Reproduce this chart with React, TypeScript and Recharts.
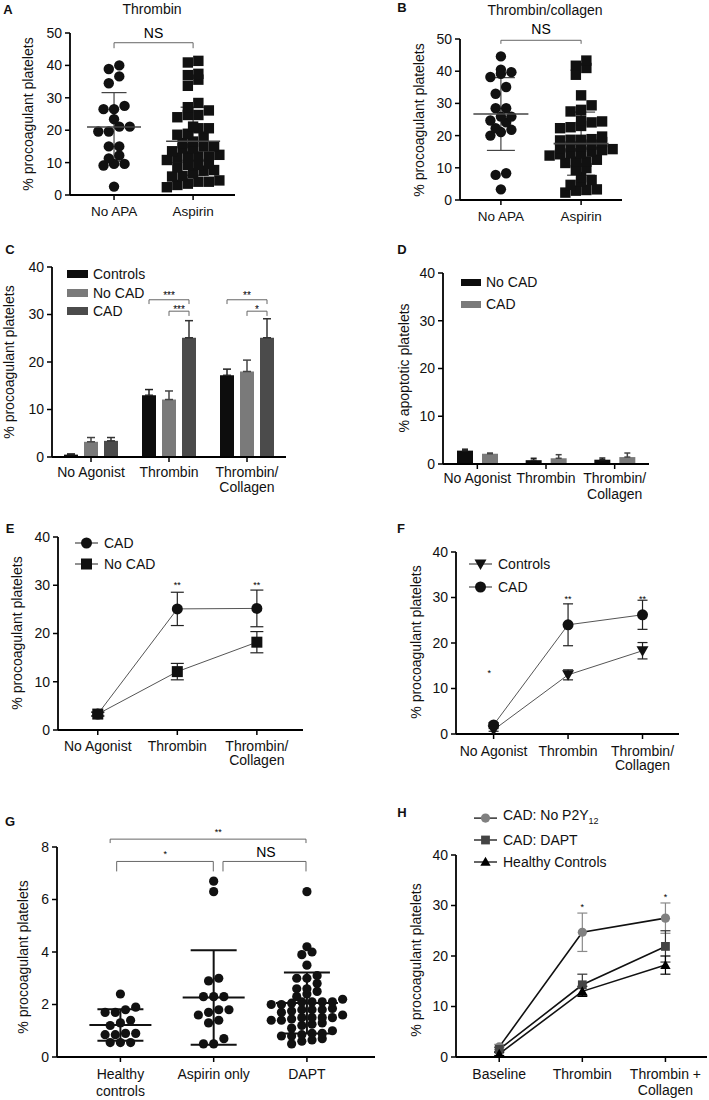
import React from 'react';
import {
  ComposedChart, Bar, Line, Scatter, XAxis, YAxis, ErrorBar,
  ReferenceLine, ReferenceDot,
} from 'recharts';

// ---------- values ----------
const abGroups = ['No APA', 'Aspirin'];

const thrNoApa = [40.0, 38.9, 36.6, 34.5, 27.5, 26.5, 26.5, 23.4, 21.1, 21.1, 19.6, 19.6, 15.0, 15.0, 12.2, 11.3, 9.6, 9.6, 9.1, 2.6];
const thrAspirin = [41.4, 40.9, 37.4, 37.0, 35.6, 33.7, 28.4, 27.1, 26.1, 24.7, 24.7, 24.0, 21.1, 20.6, 20.6, 18.9, 18.6, 18.0, 16.5, 16.0, 15.0, 15.0, 14.4, 14.4, 13.5, 12.4, 11.9, 11.9, 11.9, 11.5, 10.8, 9.6, 9.3, 9.3, 8.5, 7.7, 7.5, 6.7, 5.9, 5.7, 4.5, 4.1, 4.1, 3.5, 3.1, 2.4];
const thrMean = [21.0, 16.6];
const thrSd = [10.6, 10.5];

const tcNoApa = [44.6, 40.5, 39.7, 39.2, 38.2, 35.1, 33.0, 28.5, 28.5, 25.9, 25.9, 24.7, 24.1, 22.3, 21.8, 21.1, 20.0, 8.3, 7.8, 3.3];
const tcAspirin = [43.3, 41.7, 41.0, 38.9, 32.5, 29.4, 28.0, 27.5, 24.7, 24.4, 24.1, 23.0, 22.6, 22.3, 19.7, 18.9, 18.7, 18.7, 18.5, 18.0, 17.2, 16.6, 16.6, 16.2, 15.8, 15.5, 15.0, 14.5, 14.5, 14.2, 13.8, 12.5, 11.9, 11.9, 11.5, 9.9, 9.3, 7.1, 6.2, 5.7, 4.7, 3.3, 3.1, 2.9, 2.3];
const tcMean = [26.7, 17.5];
const tcSd = [11.3, 9.8];

const agonists = ['No Agonist', 'Thrombin', 'Thrombin/\nCollagen'];

const cControls = [0.5, 13.0, 17.2];
const cControlsErr = [0.15, 1.2, 1.3];
const cNoCad = [3.2, 12.1, 18.0];
const cNoCadErr = [0.9, 1.8, 2.4];
const cCad = [3.4, 25.1, 25.1];
const cCadErr = [0.7, 3.6, 4.0];

const dNoCad = [2.8, 0.8, 0.9];
const dNoCadErr = [0.3, 0.4, 0.35];
const dCad = [2.15, 1.2, 1.45];
const dCadErr = [0.15, 0.75, 0.85];

const eCad = [3.3, 25.1, 25.2];
const eCadErr = [0.4, 3.45, 3.8];
const eNoCad = [3.3, 12.1, 18.2];
const eNoCadErr = [0.4, 1.7, 2.2];

const fControls = [0.9, 13.0, 18.3];
const fControlsErr = [0.3, 1.1, 1.8];
const fCad = [2.0, 24.0, 26.2];
const fCadErr = [0.5, 4.6, 3.2];

const gGroups = ['Healthy\ncontrols', 'Aspirin only', 'DAPT'];
const gHealthy = [2.4, 1.9, 1.8, 1.7, 1.7, 1.4, 1.3, 1.2, 0.9, 0.9, 0.85, 0.85, 0.55, 0.55, 0.55];
const gAspirin = [6.7, 6.3, 3.0, 2.9, 2.3, 2.3, 2.3, 1.8, 1.8, 1.7, 1.6, 1.4, 1.3, 0.7, 0.5, 0.5];
const gDapt = [6.3, 4.2, 4.0, 3.9, 3.5, 3.1, 3.0, 3.0, 2.8, 2.6, 2.6, 2.5, 2.4, 2.3, 2.2, 2.1, 2.1, 2.1, 2.1, 2.05, 2.0, 2.0, 1.85, 1.8, 1.8, 1.8, 1.75, 1.7, 1.6, 1.5, 1.5, 1.5, 1.5, 1.45, 1.4, 1.4, 1.3, 1.25, 1.2, 1.1, 1.0, 0.9, 0.9, 0.85, 0.8, 0.8, 0.7, 0.65, 0.6, 0.5];
const gMean = [1.22, 2.27, 2.06];
const gSd = [0.6, 1.8, 1.16];

const hGroups = ['Baseline', 'Thrombin', 'Thrombin +\nCollagen'];
const hNoP2y = [2.0, 24.7, 27.5];
const hNoP2yErr = [0.5, 3.8, 3.0];
const hDapt = [1.5, 14.3, 21.9];
const hDaptErr = [0.4, 2.1, 3.1];
const hHealthy = [0.6, 13.0, 18.2];
const hHealthyErr = [0.3, 1.0, 1.8];

const ticks50 = [0, 10, 20, 30, 40, 50];
const ticks40 = [0, 10, 20, 30, 40];
const ticks8 = [0, 2, 4, 6, 8];

// ---------- layout ----------
const FONT = '"Liberation Sans", Arial, Helvetica, sans-serif';
const INK = '#111';
const YW = 50;
const TOP = 45;
const RIGHT = 8;
const XH = 50;
const AXIS = { stroke: '#000', strokeWidth: 1.8 };
const TICK = { stroke: '#000', strokeWidth: 1.5 };

type Box = { x0: number; x1: number; y0: number; y1: number };
const boxA: Box = { x0: 70, x1: 235, y0: 33, y1: 195 };
const boxB: Box = { x0: 460, x1: 622, y0: 39, y1: 200 };
const boxC: Box = { x0: 52, x1: 286, y0: 267, y1: 457 };
const boxD: Box = { x0: 443, x1: 649, y0: 273, y1: 464 };
const boxE: Box = { x0: 58, x1: 303, y0: 537, y1: 730 };
const boxF: Box = { x0: 456, x1: 679, y0: 552, y1: 734 };
const boxG: Box = { x0: 57, x1: 375, y0: 847, y1: 1057 };
const boxH: Box = { x0: 456, x1: 707, y0: 855, y1: 1057 };

function chartFrame(b: Box) {
  return {
    style: { position: 'absolute' as const, left: b.x0 - YW, top: b.y0 - TOP },
    width: b.x1 - b.x0 + YW + RIGHT,
    height: b.y1 - b.y0 + TOP + XH,
    margin: { top: TOP, right: RIGHT, bottom: 0, left: 0 },
  };
}

const yAxisProps = (max: number, ticks: number[]) => ({
  type: 'number' as const,
  domain: [0, max],
  ticks,
  interval: 0,
  width: YW,
  tickSize: 5,
  tickMargin: 3,
  axisLine: AXIS,
  tickLine: TICK,
  tick: { fill: INK, fontSize: 14 },
  allowDataOverflow: true,
});

// multi-line category tick; base = baseline of first line below the axis
const catTick = (labels: string[], base: number, lh: number, fs = 14) => (p: any) => {
  const v = p.payload.value;
  const txt = typeof v === 'number' ? labels[Math.floor(v + 1e-6)] : v;
  if (txt == null) return <g />;
  const lines = String(txt).split('\n');
  return (
    <text x={p.x} y={p.y - 5 + base} textAnchor="middle" fontSize={fs} fill={INK}>
      {lines.map((l, i) => (
        <tspan key={i} x={p.x} dy={i ? lh : 0}>{l}</tspan>
      ))}
    </text>
  );
};

function marker(kind: string, cx: number, cy: number, s: number, fill: string, key?: any) {
  if (kind === 'square') return <rect key={key} x={cx - s} y={cy - s} width={2 * s} height={2 * s} fill={fill} />;
  if (kind === 'triDown')
    return <polygon key={key} points={`${cx - s * 1.2},${cy - s * 0.9} ${cx + s * 1.2},${cy - s * 0.9} ${cx},${cy + s * 1.2}`} fill={fill} />;
  if (kind === 'triUp')
    return <polygon key={key} points={`${cx - s * 1.2},${cy + s * 0.9} ${cx + s * 1.2},${cy + s * 0.9} ${cx},${cy - s * 1.2}`} fill={fill} />;
  return <circle key={key} cx={cx} cy={cy} r={s} fill={fill} />;
}

// Prism-like scatter layout: values binned into rows, each row spread symmetrically
function swarm(values: number[], group: number, pxX: number, pxY: number, d: number, binH: number) {
  const sorted = [...values].sort((a, b) => a - b);
  const bins: number[][] = [];
  let start = -Infinity;
  sorted.forEach((v) => {
    if ((v - start) * pxY >= binH) {
      bins.push([v]);
      start = v;
    } else bins[bins.length - 1].push(v);
  });
  const out: { x: number; y: number }[] = [];
  bins.forEach((b) =>
    b.forEach((v, k) => out.push({ x: group + ((k - (b.length - 1) / 2) * d) / pxX, y: v })),
  );
  return out;
}

function bracket(id: string, x1: number, x2: number, y: number, drop: number) {
  const p = { ifOverflow: 'visible' as const, stroke: '#666', strokeWidth: 1 };
  return [
    <ReferenceLine key={id + 'h'} segment={[{ x: x1, y }, { x: x2, y }]} {...p} />,
    <ReferenceLine key={id + 'l'} segment={[{ x: x1, y }, { x: x1, y: y - drop }]} {...p} />,
    <ReferenceLine key={id + 'r'} segment={[{ x: x2, y }, { x: x2, y: y - drop }]} {...p} />,
  ];
}

function note(id: string, x: number, y: number, text: string, size: number) {
  const dy = text.includes('*') ? 0.57 * size : 0.36 * size;
  return (
    <ReferenceDot
      key={id}
      x={x}
      y={y}
      r={0}
      ifOverflow="visible"
      shape={(p: any) => (
        <text x={p.cx} y={p.cy + dy} textAnchor="middle" fontSize={size} stroke="none" style={{ fill: '#000' }}>{text}</text>
      )}
    />
  );
}

function DotPlot(props: any) {
  const { box, xDomain, yMax, yTicks, labels, groups, mean, sd, size, spacing, binH, meanHalf, capHalf, meanW, sdW, sdColor, tickBase, lh, fs, extras } = props;
  const f = chartFrame(box);
  const pxX = (box.x1 - box.x0) / (xDomain[1] - xDomain[0]);
  const pxY = (box.y1 - box.y0) / yMax;
  const summary = mean.map((m: number, i: number) => ({ x: i, y: m, sd: sd[i] }));
  return (
    <div style={f.style}>
      <ComposedChart width={f.width} height={f.height} margin={f.margin}>
        <XAxis type="number" dataKey="x" domain={xDomain} ticks={labels.map((_: any, i: number) => i)} interval={0}
          height={XH} tickSize={5} tickMargin={0} axisLine={AXIS} tickLine={TICK}
          tick={catTick(labels, tickBase, lh, fs)} allowDataOverflow />
        <YAxis {...yAxisProps(yMax, yTicks)} dataKey="y" />
        {extras}
        {groups.map((g: any, i: number) => (
          <Scatter key={i} data={swarm(g.values, i, pxX, pxY, spacing, binH)} isAnimationActive={false}
            shape={(p: any) => marker(g.kind, p.cx, p.cy, size, INK)} />
        ))}
        <Scatter data={summary} isAnimationActive={false}
          shape={(p: any) => (
            <line x1={p.cx - meanHalf} x2={p.cx + meanHalf} y1={p.cy} y2={p.cy} stroke={sdColor} strokeWidth={meanW} />
          )}>
          <ErrorBar dataKey="sd" direction="y" width={capHalf} stroke={sdColor} strokeWidth={sdW} />
        </Scatter>
      </ComposedChart>
    </div>
  );
}

function BarPanel(props: any) {
  const { box, labels, series, barSize, barGap, capHalf, tickBase, lh, extras } = props;
  const f = chartFrame(box);
  const data = labels.map((_: string, i: number) => {
    const row: any = { x: i + 0.5 };
    series.forEach((s: any) => {
      row[s.key] = s.values[i];
      row[s.key + 'E'] = [0, s.errs[i]];
    });
    return row;
  });
  return (
    <div style={f.style}>
      <ComposedChart width={f.width} height={f.height} margin={f.margin} data={data} barSize={barSize} barGap={barGap}>
        <XAxis type="number" dataKey="x" domain={[0, labels.length]} ticks={labels.map((_: any, i: number) => i + 0.5)}
          interval={0} height={XH} tickSize={5} tickMargin={0} axisLine={AXIS} tickLine={TICK}
          tick={catTick(labels, tickBase, lh)} allowDataOverflow />
        <YAxis {...yAxisProps(40, ticks40)} />
        {series.map((s: any) => (
          <Bar key={s.key} dataKey={s.key} fill={s.color} isAnimationActive={false}>
            <ErrorBar dataKey={s.key + 'E'} width={capHalf} stroke={s.err} strokeWidth={1.5} direction="y" />
          </Bar>
        ))}
        {extras}
      </ComposedChart>
    </div>
  );
}

function LinePanel(props: any) {
  const { box, domain, labels, series, capHalf, tickBase, lh, extras } = props;
  const f = chartFrame(box);
  const data = labels.map((_: string, i: number) => {
    const row: any = { x: i };
    series.forEach((s: any) => {
      row[s.key] = s.values[i];
      row[s.key + 'E'] = s.errs[i];
    });
    return row;
  });
  return (
    <div style={f.style}>
      <ComposedChart width={f.width} height={f.height} margin={f.margin} data={data}>
        <XAxis type="number" dataKey="x" domain={domain} ticks={labels.map((_: any, i: number) => i)} interval={0}
          height={XH} tickSize={5} tickMargin={0} axisLine={AXIS} tickLine={TICK}
          tick={catTick(labels, tickBase, lh)} allowDataOverflow />
        <YAxis {...yAxisProps(40, ticks40)} />
        {extras}
        {series.map((s: any) => (
          <Line key={s.key} dataKey={s.key} stroke={s.line} strokeWidth={s.lw} isAnimationActive={false} activeDot={false}
            dot={(p: any) => marker(s.kind, p.cx, p.cy, s.size, s.fill, p.index)}>
            <ErrorBar dataKey={s.key + 'E'} width={capHalf} stroke={s.err} strokeWidth={1.2} direction="y" />
          </Line>
        ))}
      </ComposedChart>
    </div>
  );
}

// bar centre offsets (in axis units, one band = 1) for grouped bars
function barOffsets(b: Box, nCats: number, nBars: number, size: number, gap: number) {
  const band = (b.x1 - b.x0) / nCats;
  return Array.from({ length: nBars }, (_, j) => ((j - (nBars - 1) / 2) * (size + gap)) / band);
}

const Abs = ({ x, y, children, style }: any) => (
  <div style={{ position: 'absolute', left: x, top: y, transform: 'translate(-50%,-50%)', whiteSpace: 'nowrap', ...style }}>
    {children}
  </div>
);

const YLabel = ({ x, y, text }: any) => (
  <div style={{ position: 'absolute', left: x, top: y, transform: 'translate(-50%,-50%) rotate(-90deg)', whiteSpace: 'nowrap', fontSize: 14, lineHeight: '16px' }}>
    {text}
  </div>
);

const rowStyle = (left: number, top: number): React.CSSProperties => ({
  position: 'absolute', left, top, transform: 'translateY(-50%)', display: 'flex', alignItems: 'center',
  fontSize: 14, lineHeight: '16px', whiteSpace: 'nowrap',
});

function LineKey({ left, top, gap, items }: any) {
  return (
    <>
      {items.map((it: any, i: number) => (
        <div key={i} style={rowStyle(left, top + i * gap)}>
          <svg width={23} height={14}>
            <line x1={0} x2={23} y1={7} y2={7} stroke={it.line} strokeWidth={1.3} />
            {marker(it.kind, 11.5, 7, it.size, it.fill)}
          </svg>
          <span style={{ marginLeft: 6 }}>{it.label}</span>
        </div>
      ))}
    </>
  );
}

function BarKey({ left, top, gap, items, w, h }: any) {
  return (
    <>
      {items.map((it: any, i: number) => (
        <div key={i} style={rowStyle(left, top + i * gap)}>
          <svg width={w} height={h}><rect x={0} y={0} width={w} height={h} fill={it.color} /></svg>
          <span style={{ marginLeft: 5 }}>{it.label}</span>
        </div>
      ))}
    </>
  );
}

export default function App() {
  const cOff = barOffsets(boxC, 3, 3, 14, 6);
  const cExtras: any[] = [];
  [1, 2].forEach((g) => {
    const xc = g + 0.5 + cOff[0];
    const xn = g + 0.5 + cOff[1];
    const xd = g + 0.5 + cOff[2];
    cExtras.push(...bracket('c' + g + 'o', xc, xd, 33.1, 0.9));
    cExtras.push(note('c' + g + 'ot', (xc + xd) / 2, 34.4, g === 1 ? '***' : '**', 10));
    cExtras.push(...bracket('c' + g + 'i', xn, xd, 30.7, 1.0));
    cExtras.push(note('c' + g + 'it', (xn + xd) / 2, 31.6, g === 1 ? '***' : '*', 10));
  });

  return (
    <div style={{ position: 'absolute', left: 0, top: 0, width: 709, height: 1100, overflow: 'hidden', background: '#fff', fontFamily: FONT, color: INK }}>
      {/* A */}
      <DotPlot box={boxA} xDomain={[-0.557, 1.53]} yMax={50} yTicks={ticks50} labels={abGroups}
        groups={[{ values: thrNoApa, kind: 'circle' }, { values: thrAspirin, kind: 'square' }]}
        mean={thrMean} sd={thrSd} size={5.2} spacing={10.5} binH={7} meanHalf={27} capHalf={12.5} meanW={1.6} sdW={1.2} sdColor="#444"
        tickBase={21.3} lh={16} fs={13.5}
        extras={[...bracket('a', 0, 1, 47.0, 1.7), note('ans', 0.5, 50, 'NS', 14)]} />
      {/* B */}
      <DotPlot box={boxB} xDomain={[-0.51, 1.51]} yMax={50} yTicks={ticks50} labels={abGroups}
        groups={[{ values: tcNoApa, kind: 'circle' }, { values: tcAspirin, kind: 'square' }]}
        mean={tcMean} sd={tcSd} size={5.2} spacing={10.5} binH={7} meanHalf={27.5} capHalf={14} meanW={1.6} sdW={1.2} sdColor="#444"
        tickBase={21.3} lh={16} fs={13.5}
        extras={[...bracket('b', 0, 1, 49.6, 1.1), note('bns', 0.5, 53, 'NS', 14)]} />

      {/* C */}
      <BarPanel box={boxC} labels={agonists} barSize={14} barGap={6} capHalf={4} tickBase={19.6} lh={15}
        series={[
          { key: 'controls', values: cControls, errs: cControlsErr, color: '#0d0d0d', err: '#222' },
          { key: 'nocad', values: cNoCad, errs: cNoCadErr, color: '#7a7a7a', err: '#444' },
          { key: 'cad', values: cCad, errs: cCadErr, color: '#4b4b4b', err: '#333' },
        ]}
        extras={cExtras} />
      {/* D */}
      <BarPanel box={boxD} labels={agonists} barSize={16} barGap={9} capHalf={3} tickBase={19.1} lh={16}
        series={[
          { key: 'nocad', values: dNoCad, errs: dNoCadErr, color: '#0d0d0d', err: '#222' },
          { key: 'cad', values: dCad, errs: dCadErr, color: '#7a7a7a', err: '#444' },
        ]}
        extras={[]} />

      {/* E */}
      <LinePanel box={boxE} domain={[-0.5, 2.58]} labels={agonists} capHalf={6.5} tickBase={20.6} lh={14.5}
        series={[
          { key: 'cad', values: eCad, errs: eCadErr, kind: 'circle', size: 5.5, fill: INK, line: '#555', lw: 1, err: '#222' },
          { key: 'nocad', values: eNoCad, errs: eNoCadErr, kind: 'square', size: 5.5, fill: INK, line: '#555', lw: 1, err: '#222' },
        ]}
        extras={[note('e1', 1, 30.4, '**', 9), note('e2', 2, 30.4, '**', 9)]} />
      {/* F */}
      <LinePanel box={boxF} domain={[-0.505, 2.49]} labels={agonists} capHalf={5} tickBase={22.3} lh={14}
        series={[
          { key: 'ctrl', values: fControls, errs: fControlsErr, kind: 'triDown', size: 5, fill: INK, line: '#555', lw: 1, err: '#222' },
          { key: 'cad', values: fCad, errs: fCadErr, kind: 'circle', size: 5.5, fill: INK, line: '#555', lw: 1, err: '#222' },
        ]}
        extras={[note('f0', -0.06, 13.9, '*', 9), note('f1', 1, 30.2, '**', 9), note('f2', 2, 30.2, '**', 9)]} />

      {/* G */}
      <DotPlot box={boxG} xDomain={[-0.68, 2.73]} yMax={8} yTicks={ticks8} labels={gGroups}
        groups={[{ values: gHealthy, kind: 'circle' }, { values: gAspirin, kind: 'circle' }, { values: gDapt, kind: 'circle' }]}
        mean={gMean} sd={gSd} size={4.6} spacing={10.2} binH={6} meanHalf={31} capHalf={23} meanW={2} sdW={2} sdColor="#111"
        tickBase={22.3} lh={16.7} fs={14}
        extras={[
          ...bracket('g1', -0.11, 1.99, 8.3, 0.15), note('g1t', 1.05, 8.66, '**', 9),
          ...bracket('g2', -0.04, 0.996, 7.45, 0.38), note('g2t', 0.48, 7.8, '*', 9),
          ...bracket('g3', 1.1, 1.99, 7.45, 0.38), note('g3t', 1.56, 7.8, 'NS', 14),
        ]} />
      {/* H */}
      <LinePanel box={boxH} domain={[-0.52, 2.5]} labels={hGroups} capHalf={5} tickBase={22} lh={16}
        series={[
          { key: 'nop2y', values: hNoP2y, errs: hNoP2yErr, kind: 'circle', size: 4.6, fill: '#808080', line: '#111', lw: 1.6, err: '#8a8a8a' },
          { key: 'dapt', values: hDapt, errs: hDaptErr, kind: 'square', size: 4.4, fill: '#444', line: '#111', lw: 1.6, err: '#333' },
          { key: 'healthy', values: hHealthy, errs: hHealthyErr, kind: 'triUp', size: 4.3, fill: '#000', line: '#111', lw: 1.6, err: '#000' },
        ]}
        extras={[note('h1', 1, 30.1, '*', 9), note('h2', 2, 32.1, '*', 9)]} />

      {/* titles, panel letters, axis titles */}
      <Abs x={152} y={9} style={{ fontSize: 14 }}>Thrombin</Abs>
      <Abs x={545} y={10} style={{ fontSize: 14 }}>Thrombin/collagen</Abs>
      {[['A', 8, 9], ['B', 402, 7], ['C', 10, 249], ['D', 402, 249], ['E', 10, 528], ['F', 401, 528], ['G', 10, 821], ['H', 402, 812]].map(([t, x, y]) => (
        <Abs key={t as string} x={x} y={y} style={{ fontSize: 13, fontWeight: 'bold' }}>{t}</Abs>
      ))}
      <YLabel x={28} y={114} text="% procoagulant platelets" />
      <YLabel x={419} y={120} text="% procoagulant platelets" />
      <YLabel x={9} y={362} text="% procoagulant platelets" />
      <YLabel x={404} y={368} text="% apoptotic platelets" />
      <YLabel x={17} y={633} text="% procoagulant platelets" />
      <YLabel x={416} y={642} text="% procoagulant platelets" />
      <YLabel x={23} y={957} text="% procoagulant platelets" />
      <YLabel x={416} y={960} text="% procoagulant platelets" />

      {/* legends */}
      <BarKey left={67} top={274} gap={18.5} w={21} h={8}
        items={[{ label: 'Controls', color: '#0d0d0d' }, { label: 'No CAD', color: '#7a7a7a' }, { label: 'CAD', color: '#4b4b4b' }]} />
      <BarKey left={461} top={282} gap={22} w={20} h={7}
        items={[{ label: 'No CAD', color: '#0d0d0d' }, { label: 'CAD', color: '#7a7a7a' }]} />
      <LineKey left={75} top={543} gap={20.6}
        items={[{ label: 'CAD', kind: 'circle', size: 5.5, fill: INK, line: '#555' }, { label: 'No CAD', kind: 'square', size: 5.5, fill: INK, line: '#555' }]} />
      <LineKey left={469} top={564} gap={23.4}
        items={[{ label: 'Controls', kind: 'triDown', size: 5, fill: INK, line: '#555' }, { label: 'CAD', kind: 'circle', size: 5.5, fill: INK, line: '#555' }]} />
      <LineKey left={474} top={818} gap={22}
        items={[
          { label: <>CAD: No P2Y<sub style={{ fontSize: 9 }}>12</sub></>, kind: 'circle', size: 4.6, fill: '#808080', line: '#111' },
          { label: 'CAD: DAPT', kind: 'square', size: 4.4, fill: '#444', line: '#111' },
          { label: 'Healthy Controls', kind: 'triUp', size: 4.3, fill: '#000', line: '#111' },
        ]} />
    </div>
  );
}
